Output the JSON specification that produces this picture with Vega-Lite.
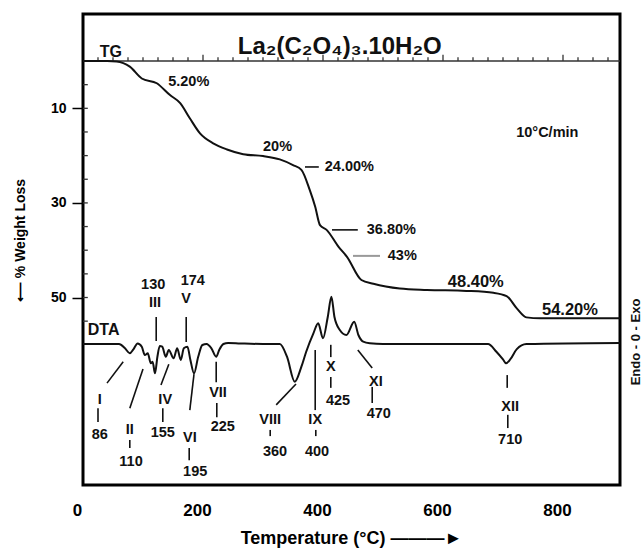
{
  "$schema": "https://vega.github.io/schema/vega-lite/v6.json",
  "autosize": "none",
  "width": 537,
  "height": 471,
  "padding": {"left": 83, "top": 14, "right": 24, "bottom": 63},
  "background": "white",
  "view": {"stroke": "black", "strokeWidth": 3},
  "config": {"font": "Liberation Sans"},
  "datasets": {
    "tg": [
      {"x": 0, "y": 0}, {"x": 40, "y": 0}, {"x": 56, "y": 0.1}, {"x": 78, "y": 1.2}, {"x": 98, "y": 3.7},
      {"x": 123, "y": 4.7}, {"x": 145, "y": 7.2}, {"x": 162, "y": 8.9}, {"x": 178, "y": 12.1}, {"x": 195, "y": 15.3},
      {"x": 217, "y": 17.4}, {"x": 240, "y": 18.7}, {"x": 267, "y": 19.7}, {"x": 300, "y": 20.1}, {"x": 328, "y": 20.8},
      {"x": 350, "y": 22.0}, {"x": 364, "y": 23.0}, {"x": 378, "y": 27.3}, {"x": 387, "y": 30.8}, {"x": 395, "y": 34.7},
      {"x": 406, "y": 35.7}, {"x": 426, "y": 39.3}, {"x": 440, "y": 41.4}, {"x": 464, "y": 46.3}, {"x": 484, "y": 47.1},
      {"x": 528, "y": 48.1}, {"x": 573, "y": 48.4}, {"x": 639, "y": 48.6}, {"x": 684, "y": 49.0}, {"x": 706, "y": 49.7},
      {"x": 723, "y": 52.3}, {"x": 739, "y": 54.2}, {"x": 762, "y": 54.4}, {"x": 895, "y": 54.4}
    ],
    "dta": [
      {"x": 0, "y": 59.83}, {"x": 60, "y": 59.83}, {"x": 70, "y": 60.74}, {"x": 78, "y": 61.8}, {"x": 84, "y": 60.95},
      {"x": 91, "y": 59.7}, {"x": 98, "y": 60.4}, {"x": 103, "y": 62.16}, {"x": 108, "y": 61.8}, {"x": 113, "y": 63.91},
      {"x": 116, "y": 63.57}, {"x": 120, "y": 66.03}, {"x": 124, "y": 62.52}, {"x": 128, "y": 60.25}, {"x": 132, "y": 60.4},
      {"x": 138, "y": 62.52}, {"x": 143, "y": 61.1}, {"x": 151, "y": 62.85}, {"x": 157, "y": 60.74}, {"x": 163, "y": 63.21},
      {"x": 168, "y": 60.74}, {"x": 174, "y": 60.4}, {"x": 179, "y": 63.21}, {"x": 185, "y": 66.03}, {"x": 192, "y": 62.52},
      {"x": 199, "y": 60.04}, {"x": 206, "y": 59.83}, {"x": 214, "y": 60.74}, {"x": 222, "y": 62.52}, {"x": 227, "y": 61.1},
      {"x": 234, "y": 59.83}, {"x": 242, "y": 59.6}, {"x": 262, "y": 59.7}, {"x": 300, "y": 59.83}, {"x": 328, "y": 59.83},
      {"x": 340, "y": 62.52}, {"x": 353, "y": 67.8}, {"x": 364, "y": 64.63}, {"x": 372, "y": 61.46}, {"x": 384, "y": 57.57},
      {"x": 392, "y": 55.45}, {"x": 400, "y": 58.63}, {"x": 408, "y": 54.06}, {"x": 414, "y": 49.83}, {"x": 419, "y": 54.06},
      {"x": 428, "y": 56.87}, {"x": 439, "y": 57.93}, {"x": 452, "y": 55.12}, {"x": 459, "y": 57.93}, {"x": 467, "y": 59.34},
      {"x": 478, "y": 59.68}, {"x": 500, "y": 59.83}, {"x": 675, "y": 59.83}, {"x": 689, "y": 61.46}, {"x": 700, "y": 63.1},
      {"x": 705, "y": 63.91}, {"x": 712, "y": 63.1}, {"x": 723, "y": 60.9}, {"x": 739, "y": 59.83}, {"x": 895, "y": 59.6}
    ],
    "leaders": [
      {"x": 122, "y": 54.1, "x2": 122, "y2": 59.2},
      {"x": 172, "y": 54.1, "x2": 172, "y2": 59.4},
      {"x": 40, "y": 68.1, "x2": 67, "y2": 63.6},
      {"x": 25, "y": 73.4, "x2": 25, "y2": 76.3},
      {"x": 78, "y": 73.4, "x2": 100, "y2": 65.1},
      {"x": 78, "y": 80.1, "x2": 78, "y2": 81.8},
      {"x": 130, "y": 68.5, "x2": 143, "y2": 64.1},
      {"x": 133, "y": 73.4, "x2": 133, "y2": 76.3},
      {"x": 178, "y": 73.8, "x2": 185, "y2": 66.2},
      {"x": 177, "y": 81.8, "x2": 177, "y2": 84.4},
      {"x": 222, "y": 63.6, "x2": 222, "y2": 67.9},
      {"x": 223, "y": 72.3, "x2": 223, "y2": 75.3},
      {"x": 322, "y": 72.7, "x2": 355, "y2": 68.3},
      {"x": 312, "y": 78.0, "x2": 312, "y2": 79.3},
      {"x": 387, "y": 61.1, "x2": 387, "y2": 73.8},
      {"x": 388, "y": 78.0, "x2": 388, "y2": 79.3},
      {"x": 413, "y": 60.0, "x2": 413, "y2": 62.6},
      {"x": 413, "y": 66.8, "x2": 413, "y2": 69.1},
      {"x": 458, "y": 61.1, "x2": 482, "y2": 64.9},
      {"x": 482, "y": 68.9, "x2": 482, "y2": 72.3},
      {"x": 707, "y": 66.4, "x2": 707, "y2": 69.1},
      {"x": 708, "y": 74.8, "x2": 708, "y2": 77.6},
      {"x": 370, "y": 22.4, "x2": 393, "y2": 22.4},
      {"x": 415, "y": 35.7, "x2": 458, "y2": 35.7}
    ],
    "grayleaders": [
      {"x": 450, "y": 41.2, "x2": 495, "y2": 41.2}
    ],
    "ticks": [
      {"x": 0, "y": 5, "x2": 8, "y2": 5}, {"x": 0, "y": 10, "x2": 8, "y2": 10}, {"x": 0, "y": 15, "x2": 8, "y2": 15},
      {"x": 0, "y": 20, "x2": 8, "y2": 20}, {"x": 0, "y": 25, "x2": 8, "y2": 25}, {"x": 0, "y": 30, "x2": 8, "y2": 30},
      {"x": 0, "y": 35, "x2": 8, "y2": 35}, {"x": 0, "y": 40, "x2": 8, "y2": 40}, {"x": 0, "y": 45, "x2": 8, "y2": 45},
      {"x": 0, "y": 50, "x2": 8, "y2": 50}, {"x": 0, "y": 55, "x2": 8, "y2": 55},
      {"x": 0, "y": 0, "x2": 895, "y2": 0},
      {"x": 25, "y": 0, "x2": 25, "y2": -0.8}, {"x": 50, "y": 0, "x2": 50, "y2": -0.8}, {"x": 75, "y": 0, "x2": 75, "y2": -0.8},
      {"x": 100, "y": 0, "x2": 100, "y2": -0.8}, {"x": 125, "y": 0, "x2": 125, "y2": -0.8}, {"x": 150, "y": 0, "x2": 150, "y2": -0.8},
      {"x": 175, "y": 0, "x2": 175, "y2": -0.8}, {"x": 200, "y": 0, "x2": 200, "y2": -1.3}, {"x": 225, "y": 0, "x2": 225, "y2": -0.8},
      {"x": 250, "y": 0, "x2": 250, "y2": -0.8}, {"x": 275, "y": 0, "x2": 275, "y2": -0.8}, {"x": 300, "y": 0, "x2": 300, "y2": -0.8},
      {"x": 325, "y": 0, "x2": 325, "y2": -0.8}, {"x": 350, "y": 0, "x2": 350, "y2": -0.8}, {"x": 375, "y": 0, "x2": 375, "y2": -0.8},
      {"x": 400, "y": 0, "x2": 400, "y2": -1.3}, {"x": 425, "y": 0, "x2": 425, "y2": -0.8}, {"x": 450, "y": 0, "x2": 450, "y2": -0.8},
      {"x": 475, "y": 0, "x2": 475, "y2": -0.8}, {"x": 500, "y": 0, "x2": 500, "y2": -0.8}, {"x": 525, "y": 0, "x2": 525, "y2": -0.8},
      {"x": 550, "y": 0, "x2": 550, "y2": -0.8}, {"x": 575, "y": 0, "x2": 575, "y2": -0.8}, {"x": 600, "y": 0, "x2": 600, "y2": -1.3},
      {"x": 625, "y": 0, "x2": 625, "y2": -0.8}, {"x": 650, "y": 0, "x2": 650, "y2": -0.8}, {"x": 675, "y": 0, "x2": 675, "y2": -0.8},
      {"x": 700, "y": 0, "x2": 700, "y2": -0.8}, {"x": 725, "y": 0, "x2": 725, "y2": -0.8}, {"x": 750, "y": 0, "x2": 750, "y2": -0.8},
      {"x": 775, "y": 0, "x2": 775, "y2": -0.8}, {"x": 800, "y": 0, "x2": 800, "y2": -1.3}, {"x": 825, "y": 0, "x2": 825, "y2": -0.8},
      {"x": 850, "y": 0, "x2": 850, "y2": -0.8}, {"x": 875, "y": 0, "x2": 875, "y2": -0.8}
    ],
    "labels": [
      {"t": "130", "x": 117, "y": 47.3}, {"t": "III", "x": 120, "y": 51.1},
      {"t": "174", "x": 183, "y": 46.6}, {"t": "V", "x": 172, "y": 50.3},
      {"t": "I", "x": 28, "y": 71.7}, {"t": "86", "x": 28, "y": 79.1},
      {"t": "II", "x": 78, "y": 78.0}, {"t": "110", "x": 80, "y": 84.8},
      {"t": "IV", "x": 137, "y": 71.7}, {"t": "155", "x": 133, "y": 78.6},
      {"t": "VI", "x": 178, "y": 79.7}, {"t": "195", "x": 187, "y": 86.9},
      {"t": "VII", "x": 225, "y": 70.2}, {"t": "225", "x": 233, "y": 77.4},
      {"t": "VIII", "x": 312, "y": 75.9}, {"t": "360", "x": 320, "y": 82.7},
      {"t": "IX", "x": 387, "y": 75.9}, {"t": "400", "x": 390, "y": 82.7},
      {"t": "X", "x": 413, "y": 64.7}, {"t": "425", "x": 425, "y": 71.9},
      {"t": "XI", "x": 488, "y": 67.9}, {"t": "470", "x": 493, "y": 74.6},
      {"t": "XII", "x": 712, "y": 73.2}, {"t": "710", "x": 712, "y": 80.1}
    ],
    "pcts": [
      {"t": "5.20%", "x": 142, "y": 4.4},
      {"t": "20%", "x": 300, "y": 18.2},
      {"t": "24.00%", "x": 403, "y": 22.4},
      {"t": "36.80%", "x": 473, "y": 35.7},
      {"t": "43%", "x": 508, "y": 41.2},
      {"t": "10°C/min", "x": 722, "y": 15.2}
    ],
    "bigpcts": [
      {"t": "48.40%", "x": 608, "y": 46.7},
      {"t": "54.20%", "x": 765, "y": 52.6}
    ],
    "tags": [
      {"t": "TG", "x": 28, "y": -1.9},
      {"t": "DTA", "x": 8, "y": 56.9}
    ],
    "heading": [
      {"t": "La₂(C₂O₄)₃.10H₂O", "x": 428, "y": -2.9}
    ],
    "side": [
      {"t": "Endo - 0 - Exo", "x": 921, "y": 59.4}
    ]
  },
  "encoding": {
    "x": {
      "field": "x", "type": "quantitative",
      "scale": {"domain": [0, 895], "nice": false, "zero": false},
      "axis": {
        "values": [0, 200, 400, 600, 800], "ticks": false, "tickSize": 0, "domain": false, "grid": false,
        "labelFont": "Liberation Sans", "labelFontWeight": "bold", "labelFontSize": 17, "labelColor": "black",
        "labelPadding": 25, "labelBaseline": "middle", "labelOffset": -6, "labelFlush": false,
        "title": "Temperature (°C) ———►", "titleFont": "Liberation Sans", "titleFontWeight": "bold", "titleFontSize": 18,
        "titleColor": "black", "titleX": 268, "titleY": 53, "titleAlign": "center", "titleBaseline": "middle"
      }
    },
    "y": {
      "field": "y", "type": "quantitative",
      "scale": {"domain": [-9.94, 89.64], "nice": false, "zero": false, "reverse": true},
      "axis": {
        "values": [10, 30, 50], "tickSize": 11, "tickWidth": 1.5, "tickColor": "black", "domain": false, "grid": false,
        "labelFont": "Liberation Sans", "labelFontWeight": "bold", "labelFontSize": 14, "labelColor": "black",
        "labelPadding": 6,
        "title": "⟵ % Weight Loss", "titleFont": "Liberation Sans", "titleFontWeight": "bold", "titleFontSize": 14,
        "titleColor": "black", "titleX": -63, "titleY": 226, "titleAngle": 270, "titleAlign": "center", "titleBaseline": "middle"
      }
    }
  },
  "layer": [
    {
      "data": {"name": "ticks"},
      "mark": {"type": "rule", "color": "#333", "strokeWidth": 1.3},
      "encoding": {"x2": {"field": "x2"}, "y2": {"field": "y2"}}
    },
    {
      "data": {"name": "tg"},
      "mark": {"type": "line", "color": "#111", "strokeWidth": 2, "interpolate": "monotone"},
      "encoding": {}
    },
    {
      "data": {"name": "dta"},
      "mark": {"type": "line", "color": "#111", "strokeWidth": 2, "interpolate": "monotone"},
      "encoding": {}
    },
    {
      "data": {"name": "leaders"},
      "mark": {"type": "rule", "color": "#111", "strokeWidth": 1.6},
      "encoding": {"x2": {"field": "x2"}, "y2": {"field": "y2"}}
    },
    {
      "data": {"name": "grayleaders"},
      "mark": {"type": "rule", "color": "#999", "strokeWidth": 2},
      "encoding": {"x2": {"field": "x2"}, "y2": {"field": "y2"}}
    },
    {
      "data": {"name": "labels"},
      "mark": {"type": "text", "font": "Liberation Sans", "fontWeight": "bold", "fontSize": 14.5, "align": "center", "baseline": "middle", "color": "#111"},
      "encoding": {"text": {"field": "t"}}
    },
    {
      "data": {"name": "pcts"},
      "mark": {"type": "text", "font": "Liberation Sans", "fontWeight": "bold", "fontSize": 14.5, "align": "left", "baseline": "middle", "color": "#111"},
      "encoding": {"text": {"field": "t"}}
    },
    {
      "data": {"name": "bigpcts"},
      "mark": {"type": "text", "font": "Liberation Sans", "fontWeight": "bold", "fontSize": 16.5, "align": "left", "baseline": "middle", "color": "#111"},
      "encoding": {"text": {"field": "t"}}
    },
    {
      "data": {"name": "tags"},
      "mark": {"type": "text", "font": "Liberation Sans", "fontWeight": "bold", "fontSize": 16, "align": "left", "baseline": "middle", "color": "#111"},
      "encoding": {"text": {"field": "t"}}
    },
    {
      "data": {"name": "heading"},
      "mark": {"type": "text", "font": "Liberation Sans", "fontWeight": "bold", "fontSize": 24, "align": "center", "baseline": "middle", "color": "#111"},
      "encoding": {"text": {"field": "t"}}
    },
    {
      "data": {"name": "side"},
      "mark": {"type": "text", "font": "Liberation Sans", "fontWeight": "bold", "fontSize": 13, "align": "center", "baseline": "middle", "angle": 270, "color": "#111"},
      "encoding": {"text": {"field": "t"}}
    }
  ]
}
